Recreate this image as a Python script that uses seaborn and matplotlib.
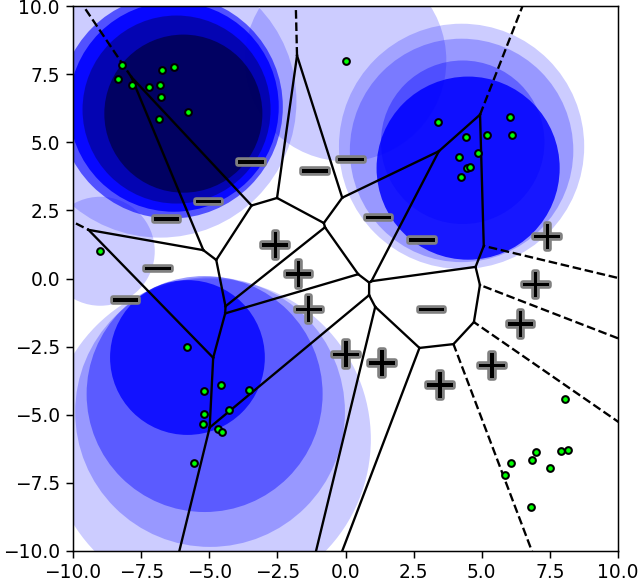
import numpy as np
import pandas as pd
import matplotlib
matplotlib.use("Agg")
import matplotlib.pyplot as plt
import matplotlib.patheffects as pe
import matplotlib.transforms as mtransforms
from matplotlib.patches import Circle
import seaborn as sns

# ---------------- data ----------------
minus_x = [-3.52, -1.17, 0.15, -5.07, -6.61, 1.17, 2.77, -6.93, -8.12, 3.12]
minus_y = [4.31, 3.98, 4.40, 2.86, 2.22, 2.28, 1.45, 0.41, -0.75, -1.10]

plus_x = [-2.62, -1.77, -1.39, -0.02, 1.30, 3.43, 5.33, 6.38, 6.94, 7.36]
plus_y = [1.27, 0.20, -1.09, -2.74, -3.06, -3.87, -3.15, -1.63, -0.18, 1.58]

pts_x = [-8.19, -6.74, -6.29, -8.36, -7.82, -7.20, -6.80, -6.77, -5.78, -6.84,
         0.01, -9.01,
         3.41, 6.03, 4.43, 5.18, 6.10, 4.86, 4.18, 4.45, 4.57, 4.24,
         -5.82, -4.56, -5.18, -3.54, -4.26, -5.20, -5.24, -4.67, -4.53, -5.57,
         8.07, 6.98, 7.92, 8.15, 6.06, 6.86, 7.49, 5.84, 6.81]
pts_y = [7.82, 7.65, 7.75, 7.31, 7.11, 7.02, 7.09, 6.66, 6.11, 5.86,
         7.99, 1.01,
         5.75, 5.94, 5.20, 5.26, 5.27, 4.61, 4.46, 4.04, 4.08, 3.74,
         -2.52, -3.92, -4.12, -4.10, -4.81, -4.98, -5.35, -5.53, -5.64, -6.77,
         -4.43, -6.37, -6.34, -6.28, -6.77, -6.66, -6.94, -7.21, -8.37]

circle_x = [0.0, -9.0,
            -6.8, -6.4, -6.3, -6.2, -5.95,
            4.26, 4.26, 4.30, 4.50,
            -4.97, -4.97, -5.17, -5.80]
circle_y = [8.0, 1.0,
            6.5, 6.3, 6.3, 6.2, 6.05,
            4.85, 4.70, 5.00, 4.05,
            -5.90, -4.90, -4.24, -2.90]
circle_r = [3.7, 2.0,
            5.0, 4.1, 3.85, 3.45, 2.9,
            4.5, 4.1, 3.0, 3.36,
            5.9, 4.95, 4.33, 2.84]
circle_alpha = [0.2, 0.2,
                0.2, 0.6, 0.9, 0.4, 0.7,
                0.2, 0.25, 0.35, 0.85,
                0.2, 0.25, 0.4, 0.8]
circle_color = ["blue", "blue",
                "blue", "blue", "blue", "#000040", "#000040",
                "blue", "blue", "blue", "blue",
                "blue", "blue", "blue", "blue"]

ticks = [-10.0, -7.5, -5.0, -2.5, 0.0, 2.5, 5.0, 7.5, 10.0]

# ---------------- voronoi (half-plane clipping) ----------------
sites = np.array(list(zip(minus_x + plus_x, minus_y + plus_y)), dtype=float)


def voronoi_edges(p):
    n = len(p)
    out = []
    for i in range(n):
        for j in range(i + 1, n):
            si, sj = p[i], p[j]
            m = (si + sj) / 2
            v = sj - si
            d = np.array([-v[1], v[0]]) / np.hypot(*v)
            lo, hi = -np.inf, np.inf
            ok = True
            for k in range(n):
                if k in (i, j):
                    continue
                sk = p[k]
                a = 2 * np.dot(d, sk - si)
                b = np.dot(sk, sk) - np.dot(si, si) - 2 * np.dot(m, sk - si)
                if abs(a) < 1e-12:
                    if b < 0:
                        ok = False
                        break
                elif a > 0:
                    hi = min(hi, b / a)
                else:
                    lo = max(lo, b / a)
            if ok and lo < hi - 1e-9:
                out.append((m, d, lo, hi))
    return out


# ---------------- figure ----------------
dpi = 134
fig = plt.figure(figsize=(640 / dpi, 581 / dpi), dpi=dpi)
ax = fig.add_axes([73 / 640, 30 / 581, 545 / 640, 545 / 581])

for cx, cy, r, a, c in zip(circle_x, circle_y, circle_r, circle_alpha, circle_color):
    ax.add_patch(Circle((cx, cy), r, facecolor=c, edgecolor="none", alpha=a, zorder=1))

for m, d, lo, hi in voronoi_edges(sites):
    inf = np.isinf(lo) or np.isinf(hi)
    t0 = lo if np.isfinite(lo) else -60
    t1 = hi if np.isfinite(hi) else 60
    p0 = m + t0 * d
    p1 = m + t1 * d
    ax.plot([p0[0], p1[0]], [p0[1], p1[1]], color="black", lw=1.25,
            ls="--" if inf else "-", zorder=2)

df = pd.DataFrame({"x": pts_x, "y": pts_y})
sns.scatterplot(data=df, x="x", y="y", ax=ax, color="#00ff00", edgecolor="black",
                s=13, linewidth=1.1, zorder=4, legend=False)

stroke = [pe.withStroke(linewidth=3, foreground="gray")]
txt_tr = mtransforms.offset_copy(ax.transData, fig=fig, x=0, y=-3, units="dots")
for x, y in zip(minus_x, minus_y):
    ax.text(x, y, "$-$", fontsize=22, ha="center", va="center", color="black",
            path_effects=stroke, zorder=3, transform=txt_tr)
for x, y in zip(plus_x, plus_y):
    ax.text(x, y, "$+$", fontsize=22, ha="center", va="center", color="black",
            path_effects=stroke, zorder=3, transform=txt_tr)

ax.set_xlim(-10, 10)
ax.set_ylim(-10, 10)
ax.set_xticks(ticks)
ax.set_yticks(ticks)
ax.set_xlabel("")
ax.set_ylabel("")
ax.tick_params(labelsize=10)
ax.tick_params(axis="x", pad=3)

fig.savefig("out.png", dpi=dpi)
